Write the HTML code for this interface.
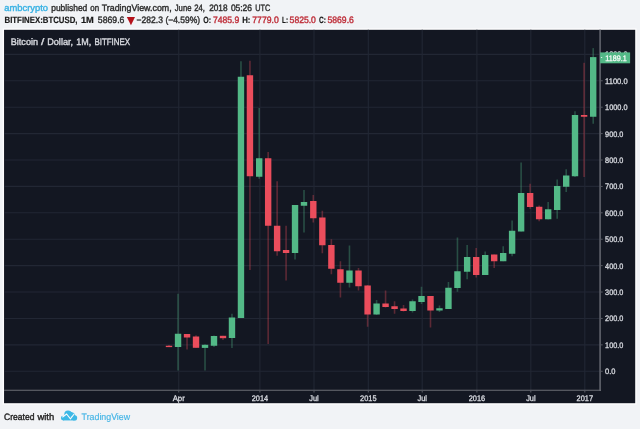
<!DOCTYPE html>
<html lang="en"><head><meta charset="utf-8"><title>BTCUSD chart</title>
<style>html,body{margin:0;padding:0;background:#f1f3f6;overflow:hidden}svg{display:block}text{font-family:'Liberation Sans', 'DejaVu Sans', sans-serif;text-rendering:geometricPrecision}</style>
</head><body>
<svg width="640" height="429" viewBox="0 0 640 429">
<rect x="0" y="0" width="640" height="429" fill="#f1f3f6"/>
<rect x="3.45" y="29.2" width="632.35" height="374.6" fill="none" stroke="#fdfdfe" stroke-width="1.6"/>
<rect x="4.05" y="29.8" width="631.15" height="373.4" fill="#131722"/>
<g stroke="#222734" stroke-width="1.1">
<line x1="4.05" y1="371.25" x2="600.1" y2="371.25"/>
<line x1="4.05" y1="344.85" x2="600.1" y2="344.85"/>
<line x1="4.05" y1="318.44" x2="600.1" y2="318.44"/>
<line x1="4.05" y1="292.03" x2="600.1" y2="292.03"/>
<line x1="4.05" y1="265.63" x2="600.1" y2="265.63"/>
<line x1="4.05" y1="239.22" x2="600.1" y2="239.22"/>
<line x1="4.05" y1="212.82" x2="600.1" y2="212.82"/>
<line x1="4.05" y1="186.41" x2="600.1" y2="186.41"/>
<line x1="4.05" y1="160.01" x2="600.1" y2="160.01"/>
<line x1="4.05" y1="133.60" x2="600.1" y2="133.60"/>
<line x1="4.05" y1="107.20" x2="600.1" y2="107.20"/>
<line x1="4.05" y1="80.79" x2="600.1" y2="80.79"/>
<line x1="4.05" y1="54.39" x2="600.1" y2="54.39"/>
<line x1="178.75" y1="29.8" x2="178.75" y2="390.3"/>
<line x1="259.90" y1="29.8" x2="259.90" y2="390.3"/>
<line x1="314.00" y1="29.8" x2="314.00" y2="390.3"/>
<line x1="368.30" y1="29.8" x2="368.30" y2="390.3"/>
<line x1="422.21" y1="29.8" x2="422.21" y2="390.3"/>
<line x1="476.90" y1="29.8" x2="476.90" y2="390.3"/>
<line x1="530.83" y1="29.8" x2="530.83" y2="390.3"/>
<line x1="584.80" y1="29.8" x2="584.80" y2="390.3"/>
</g>
<g>
<rect x="168.20" y="345.00" width="1.6" height="2.10" fill="#eb4d5c" opacity="0.34"/>
<rect x="165.80" y="345.75" width="6.4" height="1.35" fill="#eb4d5c"/>
<rect x="177.25" y="293.75" width="1.6" height="76.75" fill="#53b987" opacity="0.34"/>
<rect x="174.85" y="333.75" width="6.4" height="13.25" fill="#53b987"/>
<rect x="186.24" y="334.00" width="1.6" height="15.50" fill="#eb4d5c" opacity="0.34"/>
<rect x="183.84" y="334.00" width="6.4" height="3.50" fill="#eb4d5c"/>
<rect x="195.22" y="335.30" width="1.6" height="12.50" fill="#eb4d5c" opacity="0.34"/>
<rect x="192.82" y="336.50" width="6.4" height="11.30" fill="#eb4d5c"/>
<rect x="204.21" y="344.30" width="1.6" height="26.20" fill="#53b987" opacity="0.34"/>
<rect x="201.81" y="344.80" width="6.4" height="3.10" fill="#53b987"/>
<rect x="213.20" y="335.50" width="1.6" height="11.50" fill="#53b987" opacity="0.34"/>
<rect x="210.80" y="336.00" width="6.4" height="9.75" fill="#53b987"/>
<rect x="222.19" y="335.80" width="1.6" height="4.10" fill="#eb4d5c" opacity="0.34"/>
<rect x="219.79" y="335.80" width="6.4" height="2.40" fill="#eb4d5c"/>
<rect x="231.17" y="313.75" width="1.6" height="34.25" fill="#53b987" opacity="0.34"/>
<rect x="228.78" y="317.50" width="6.4" height="20.50" fill="#53b987"/>
<rect x="240.16" y="61.25" width="1.6" height="256.75" fill="#53b987" opacity="0.34"/>
<rect x="237.76" y="76.75" width="6.4" height="241.25" fill="#53b987"/>
<rect x="249.15" y="60.75" width="1.6" height="209.25" fill="#eb4d5c" opacity="0.34"/>
<rect x="246.75" y="75.25" width="6.4" height="101.00" fill="#eb4d5c"/>
<rect x="258.40" y="108.00" width="1.6" height="70.75" fill="#53b987" opacity="0.34"/>
<rect x="256.00" y="158.25" width="6.4" height="18.50" fill="#53b987"/>
<rect x="267.36" y="152.00" width="1.6" height="192.00" fill="#eb4d5c" opacity="0.34"/>
<rect x="264.96" y="158.25" width="6.4" height="67.50" fill="#eb4d5c"/>
<rect x="276.32" y="181.25" width="1.6" height="74.50" fill="#eb4d5c" opacity="0.34"/>
<rect x="273.92" y="225.75" width="6.4" height="25.50" fill="#eb4d5c"/>
<rect x="285.28" y="225.75" width="1.6" height="54.75" fill="#eb4d5c" opacity="0.34"/>
<rect x="282.88" y="250.00" width="6.4" height="3.00" fill="#eb4d5c"/>
<rect x="294.24" y="205.00" width="1.6" height="54.50" fill="#53b987" opacity="0.34"/>
<rect x="291.84" y="205.00" width="6.4" height="48.00" fill="#53b987"/>
<rect x="303.20" y="190.00" width="1.6" height="42.50" fill="#53b987" opacity="0.34"/>
<rect x="300.80" y="202.00" width="6.4" height="3.75" fill="#53b987"/>
<rect x="312.50" y="195.00" width="1.6" height="27.50" fill="#eb4d5c" opacity="0.34"/>
<rect x="310.10" y="201.00" width="6.4" height="17.25" fill="#eb4d5c"/>
<rect x="321.54" y="210.75" width="1.6" height="42.50" fill="#eb4d5c" opacity="0.34"/>
<rect x="319.14" y="217.50" width="6.4" height="27.75" fill="#eb4d5c"/>
<rect x="330.58" y="239.25" width="1.6" height="35.00" fill="#eb4d5c" opacity="0.34"/>
<rect x="328.18" y="245.00" width="6.4" height="23.75" fill="#eb4d5c"/>
<rect x="339.62" y="261.25" width="1.6" height="36.25" fill="#eb4d5c" opacity="0.34"/>
<rect x="337.22" y="269.25" width="6.4" height="13.50" fill="#eb4d5c"/>
<rect x="348.66" y="245.50" width="1.6" height="42.00" fill="#53b987" opacity="0.34"/>
<rect x="346.26" y="270.50" width="6.4" height="12.25" fill="#53b987"/>
<rect x="357.70" y="268.00" width="1.6" height="22.50" fill="#eb4d5c" opacity="0.34"/>
<rect x="355.30" y="270.50" width="6.4" height="15.75" fill="#eb4d5c"/>
<rect x="366.80" y="285.00" width="1.6" height="41.75" fill="#eb4d5c" opacity="0.34"/>
<rect x="364.40" y="285.50" width="6.4" height="29.00" fill="#eb4d5c"/>
<rect x="375.78" y="300.00" width="1.6" height="15.00" fill="#53b987" opacity="0.34"/>
<rect x="373.38" y="303.50" width="6.4" height="11.00" fill="#53b987"/>
<rect x="384.77" y="290.50" width="1.6" height="17.00" fill="#eb4d5c" opacity="0.34"/>
<rect x="382.37" y="303.50" width="6.4" height="3.50" fill="#eb4d5c"/>
<rect x="393.75" y="301.25" width="1.6" height="12.50" fill="#eb4d5c" opacity="0.34"/>
<rect x="391.35" y="306.25" width="6.4" height="2.75" fill="#eb4d5c"/>
<rect x="402.74" y="305.00" width="1.6" height="6.50" fill="#eb4d5c" opacity="0.34"/>
<rect x="400.34" y="308.50" width="6.4" height="2.50" fill="#eb4d5c"/>
<rect x="411.72" y="299.50" width="1.6" height="13.00" fill="#53b987" opacity="0.34"/>
<rect x="409.32" y="301.25" width="6.4" height="9.75" fill="#53b987"/>
<rect x="420.71" y="286.75" width="1.6" height="17.25" fill="#53b987" opacity="0.34"/>
<rect x="418.31" y="296.00" width="6.4" height="6.00" fill="#53b987"/>
<rect x="429.69" y="296.00" width="1.6" height="31.50" fill="#eb4d5c" opacity="0.34"/>
<rect x="427.30" y="296.00" width="6.4" height="14.50" fill="#eb4d5c"/>
<rect x="438.68" y="305.50" width="1.6" height="6.50" fill="#53b987" opacity="0.34"/>
<rect x="436.28" y="308.25" width="6.4" height="2.25" fill="#53b987"/>
<rect x="447.66" y="282.00" width="1.6" height="27.00" fill="#53b987" opacity="0.34"/>
<rect x="445.26" y="287.75" width="6.4" height="21.25" fill="#53b987"/>
<rect x="456.65" y="237.50" width="1.6" height="54.25" fill="#53b987" opacity="0.34"/>
<rect x="454.25" y="271.25" width="6.4" height="16.75" fill="#53b987"/>
<rect x="466.35" y="245.00" width="1.6" height="34.25" fill="#53b987" opacity="0.34"/>
<rect x="463.95" y="257.00" width="6.4" height="14.75" fill="#53b987"/>
<rect x="475.40" y="248.00" width="1.6" height="29.50" fill="#eb4d5c" opacity="0.34"/>
<rect x="473.00" y="257.00" width="6.4" height="18.00" fill="#eb4d5c"/>
<rect x="484.40" y="251.50" width="1.6" height="23.50" fill="#53b987" opacity="0.34"/>
<rect x="482.00" y="255.00" width="6.4" height="20.00" fill="#53b987"/>
<rect x="493.40" y="254.50" width="1.6" height="13.50" fill="#eb4d5c" opacity="0.34"/>
<rect x="491.00" y="254.50" width="6.4" height="6.75" fill="#eb4d5c"/>
<rect x="502.40" y="246.25" width="1.6" height="15.00" fill="#53b987" opacity="0.34"/>
<rect x="500.00" y="253.00" width="6.4" height="8.25" fill="#53b987"/>
<rect x="511.30" y="220.50" width="1.6" height="35.75" fill="#53b987" opacity="0.34"/>
<rect x="508.90" y="230.75" width="6.4" height="23.00" fill="#53b987"/>
<rect x="520.32" y="162.50" width="1.6" height="69.00" fill="#53b987" opacity="0.34"/>
<rect x="517.92" y="193.00" width="6.4" height="38.50" fill="#53b987"/>
<rect x="529.33" y="183.75" width="1.6" height="25.00" fill="#eb4d5c" opacity="0.34"/>
<rect x="526.93" y="193.00" width="6.4" height="14.00" fill="#eb4d5c"/>
<rect x="538.35" y="205.50" width="1.6" height="15.75" fill="#eb4d5c" opacity="0.34"/>
<rect x="535.95" y="206.75" width="6.4" height="12.50" fill="#eb4d5c"/>
<rect x="547.37" y="202.00" width="1.6" height="17.50" fill="#53b987" opacity="0.34"/>
<rect x="544.97" y="209.25" width="6.4" height="10.00" fill="#53b987"/>
<rect x="556.38" y="179.50" width="1.6" height="39.25" fill="#53b987" opacity="0.34"/>
<rect x="553.98" y="186.00" width="6.4" height="24.00" fill="#53b987"/>
<rect x="565.40" y="169.25" width="1.6" height="22.75" fill="#53b987" opacity="0.34"/>
<rect x="563.00" y="175.50" width="6.4" height="11.25" fill="#53b987"/>
<rect x="574.20" y="111.25" width="1.6" height="65.75" fill="#53b987" opacity="0.34"/>
<rect x="571.80" y="115.00" width="6.4" height="61.25" fill="#53b987"/>
<rect x="583.30" y="62.80" width="1.6" height="114.20" fill="#eb4d5c" opacity="0.34"/>
<rect x="580.90" y="115.00" width="6.4" height="1.75" fill="#eb4d5c"/>
<rect x="592.40" y="48.10" width="1.6" height="75.65" fill="#53b987" opacity="0.34"/>
<rect x="590.00" y="57.10" width="6.4" height="59.65" fill="#53b987"/>
</g>
<g stroke="#585b64">
<line x1="600.1" y1="29.8" x2="600.1" y2="390.9" stroke-width="1.8"/>
<line x1="4.05" y1="390.3" x2="601" y2="390.3" stroke-width="1.1" stroke="#6b6e75"/>
<line x1="600.1" y1="371.25" x2="602.7" y2="371.25" stroke-width="1"/>
<line x1="600.1" y1="344.85" x2="602.7" y2="344.85" stroke-width="1"/>
<line x1="600.1" y1="318.44" x2="602.7" y2="318.44" stroke-width="1"/>
<line x1="600.1" y1="292.03" x2="602.7" y2="292.03" stroke-width="1"/>
<line x1="600.1" y1="265.63" x2="602.7" y2="265.63" stroke-width="1"/>
<line x1="600.1" y1="239.22" x2="602.7" y2="239.22" stroke-width="1"/>
<line x1="600.1" y1="212.82" x2="602.7" y2="212.82" stroke-width="1"/>
<line x1="600.1" y1="186.41" x2="602.7" y2="186.41" stroke-width="1"/>
<line x1="600.1" y1="160.01" x2="602.7" y2="160.01" stroke-width="1"/>
<line x1="600.1" y1="133.60" x2="602.7" y2="133.60" stroke-width="1"/>
<line x1="600.1" y1="107.20" x2="602.7" y2="107.20" stroke-width="1"/>
<line x1="600.1" y1="80.79" x2="602.7" y2="80.79" stroke-width="1"/>
<line x1="600.1" y1="54.39" x2="602.7" y2="54.39" stroke-width="1"/>
<line x1="178.75" y1="390.3" x2="178.75" y2="392.5" stroke-width="1"/>
<line x1="259.90" y1="390.3" x2="259.90" y2="392.5" stroke-width="1"/>
<line x1="314.00" y1="390.3" x2="314.00" y2="392.5" stroke-width="1"/>
<line x1="368.30" y1="390.3" x2="368.30" y2="392.5" stroke-width="1"/>
<line x1="422.21" y1="390.3" x2="422.21" y2="392.5" stroke-width="1"/>
<line x1="476.90" y1="390.3" x2="476.90" y2="392.5" stroke-width="1"/>
<line x1="530.83" y1="390.3" x2="530.83" y2="392.5" stroke-width="1"/>
<line x1="584.80" y1="390.3" x2="584.80" y2="392.5" stroke-width="1"/>
</g>
<g font-size="8" fill="#dcdee4" stroke="#dcdee4" stroke-width="0.3">
<text x="605.1" y="374.15" textLength="10.4" lengthAdjust="spacingAndGlyphs">0.0</text>
<text x="605.1" y="347.75" textLength="18.2" lengthAdjust="spacingAndGlyphs">100.0</text>
<text x="605.1" y="321.34" textLength="18.2" lengthAdjust="spacingAndGlyphs">200.0</text>
<text x="605.1" y="294.93" textLength="18.2" lengthAdjust="spacingAndGlyphs">300.0</text>
<text x="605.1" y="268.53" textLength="18.2" lengthAdjust="spacingAndGlyphs">400.0</text>
<text x="605.1" y="242.12" textLength="18.2" lengthAdjust="spacingAndGlyphs">500.0</text>
<text x="605.1" y="215.72" textLength="18.2" lengthAdjust="spacingAndGlyphs">600.0</text>
<text x="605.1" y="189.31" textLength="18.2" lengthAdjust="spacingAndGlyphs">700.0</text>
<text x="605.1" y="162.91" textLength="18.2" lengthAdjust="spacingAndGlyphs">800.0</text>
<text x="605.1" y="136.50" textLength="18.2" lengthAdjust="spacingAndGlyphs">900.0</text>
<text x="605.1" y="110.10" textLength="22.5" lengthAdjust="spacingAndGlyphs">1000.0</text>
<text x="605.1" y="83.69" textLength="22.5" lengthAdjust="spacingAndGlyphs">1100.0</text>
<text x="605.1" y="57.39" textLength="22.5" lengthAdjust="spacingAndGlyphs">1200.0</text>
</g>
<rect x="600.1" y="52.4" width="30" height="10.9" fill="#53b987"/>
<text x="605.3" y="60.8" font-size="8" fill="#ffffff" stroke="#ffffff" stroke-width="0.25" textLength="21.4" lengthAdjust="spacingAndGlyphs">1189.1</text>
<rect x="600.9" y="57.1" width="1.3" height="0.9" fill="#ffffff" opacity="0.85"/>
<g font-size="8" fill="#dcdee4" stroke="#dcdee4" stroke-width="0.3" text-anchor="middle">
<text x="178.75" y="400.6" textLength="12.2" lengthAdjust="spacingAndGlyphs">Apr</text>
<text x="259.90" y="400.6" textLength="16.4" lengthAdjust="spacingAndGlyphs">2014</text>
<text x="314.00" y="400.6" textLength="9.4" lengthAdjust="spacingAndGlyphs">Jul</text>
<text x="368.30" y="400.6" textLength="16.4" lengthAdjust="spacingAndGlyphs">2015</text>
<text x="422.21" y="400.6" textLength="9.4" lengthAdjust="spacingAndGlyphs">Jul</text>
<text x="476.90" y="400.6" textLength="16.4" lengthAdjust="spacingAndGlyphs">2016</text>
<text x="530.83" y="400.6" textLength="9.4" lengthAdjust="spacingAndGlyphs">Jul</text>
<text x="584.80" y="400.6" textLength="16.4" lengthAdjust="spacingAndGlyphs">2017</text>
</g>
<text x="10.8" y="44.8" font-size="9.5" fill="#d6d8de" stroke="#d6d8de" stroke-width="0.4" textLength="27.2" lengthAdjust="spacingAndGlyphs">Bitcoin</text>
<text x="41" y="44.8" font-size="9.5" fill="#d6d8de" stroke="#d6d8de" stroke-width="0.4" textLength="3.3" lengthAdjust="spacingAndGlyphs">/</text>
<text x="47.2" y="44.8" font-size="9.5" fill="#d6d8de" stroke="#d6d8de" stroke-width="0.4" textLength="25.9" lengthAdjust="spacingAndGlyphs">Dollar,</text>
<text x="76.25" y="44.8" font-size="9.5" fill="#d6d8de" stroke="#d6d8de" stroke-width="0.4" textLength="15.0" lengthAdjust="spacingAndGlyphs">1M,</text>
<text x="94.4" y="44.8" font-size="9.5" fill="#d6d8de" stroke="#d6d8de" stroke-width="0.4" textLength="35.7" lengthAdjust="spacingAndGlyphs">BITFINEX</text>
<text x="4.2" y="10.75" font-size="9.3" fill="#3bb3e4" stroke="#3bb3e4" stroke-width="0.4" textLength="43.8" lengthAdjust="spacingAndGlyphs">ambcrypto</text>
<text x="51.25" y="10.75" font-size="9.3" fill="#2e2e2e" stroke="#2e2e2e" stroke-width="0.4" textLength="36.0" lengthAdjust="spacingAndGlyphs">published</text>
<text x="90.25" y="10.75" font-size="9.3" fill="#2e2e2e" stroke="#2e2e2e" stroke-width="0.4" textLength="8.8" lengthAdjust="spacingAndGlyphs">on</text>
<text x="101.7" y="10.75" font-size="9.3" fill="#2e2e2e" stroke="#2e2e2e" stroke-width="0.4" textLength="70.0" lengthAdjust="spacingAndGlyphs">TradingView.com,</text>
<text x="174.8" y="10.75" font-size="9.3" fill="#2e2e2e" stroke="#2e2e2e" stroke-width="0.4" textLength="16.6" lengthAdjust="spacingAndGlyphs">June</text>
<text x="194.3" y="10.75" font-size="9.3" fill="#2e2e2e" stroke="#2e2e2e" stroke-width="0.4" textLength="10.7" lengthAdjust="spacingAndGlyphs">24,</text>
<text x="209.2" y="10.75" font-size="9.3" fill="#2e2e2e" stroke="#2e2e2e" stroke-width="0.4" textLength="18.3" lengthAdjust="spacingAndGlyphs">2018</text>
<text x="230.9" y="10.75" font-size="9.3" fill="#2e2e2e" stroke="#2e2e2e" stroke-width="0.4" textLength="21.1" lengthAdjust="spacingAndGlyphs">05:26</text>
<text x="255.3" y="10.75" font-size="9.3" fill="#2e2e2e" stroke="#2e2e2e" stroke-width="0.4" textLength="15.0" lengthAdjust="spacingAndGlyphs">UTC</text>
<text x="4.5" y="22.9" font-size="9.1" fill="#1a1a1a" stroke="#1a1a1a" stroke-width="0.2" font-weight="bold" textLength="73.0" lengthAdjust="spacingAndGlyphs">BITFINEX:BTCUSD,</text>
<text x="80.9" y="22.9" font-size="9.1" fill="#1a1a1a" stroke="#1a1a1a" stroke-width="0.2" font-weight="bold" textLength="12.9" lengthAdjust="spacingAndGlyphs">1M</text>
<text x="97.8" y="22.9" font-size="9.3" fill="#2e2e2e" stroke="#2e2e2e" stroke-width="0.4" textLength="26.6" lengthAdjust="spacingAndGlyphs">5869.6</text>
<text x="124.1" y="24.9" font-size="14" fill="#b5121b" font-family="DejaVu Sans, sans-serif">▼</text>
<text x="136.6" y="22.9" font-size="9.3" fill="#2e2e2e" stroke="#2e2e2e" stroke-width="0.4" textLength="26.3" lengthAdjust="spacingAndGlyphs">−282.3</text>
<text x="165.4" y="22.9" font-size="9.3" fill="#2e2e2e" stroke="#2e2e2e" stroke-width="0.4" textLength="34.6" lengthAdjust="spacingAndGlyphs">(−4.59%)</text>
<text x="203.2" y="22.9" font-size="9.1" fill="#1a1a1a" stroke="#1a1a1a" stroke-width="0.2" font-weight="bold" textLength="7.8" lengthAdjust="spacingAndGlyphs">O:</text>
<text x="212.9" y="22.9" font-size="9.3" fill="#bf2f3a" stroke="#bf2f3a" stroke-width="0.4" textLength="26.3" lengthAdjust="spacingAndGlyphs">7485.9</text>
<text x="242.2" y="22.9" font-size="9.1" fill="#1a1a1a" stroke="#1a1a1a" stroke-width="0.2" font-weight="bold" textLength="8.2" lengthAdjust="spacingAndGlyphs">H:</text>
<text x="252.3" y="22.9" font-size="9.3" fill="#bf2f3a" stroke="#bf2f3a" stroke-width="0.4" textLength="26.4" lengthAdjust="spacingAndGlyphs">7779.0</text>
<text x="282.1" y="22.9" font-size="9.1" fill="#1a1a1a" stroke="#1a1a1a" stroke-width="0.2" font-weight="bold" textLength="6.0" lengthAdjust="spacingAndGlyphs">L:</text>
<text x="289.6" y="22.9" font-size="9.3" fill="#bf2f3a" stroke="#bf2f3a" stroke-width="0.4" textLength="26.3" lengthAdjust="spacingAndGlyphs">5825.0</text>
<text x="319.1" y="22.9" font-size="9.1" fill="#1a1a1a" stroke="#1a1a1a" stroke-width="0.2" font-weight="bold" textLength="6.9" lengthAdjust="spacingAndGlyphs">C:</text>
<text x="327.5" y="22.9" font-size="9.3" fill="#bf2f3a" stroke="#bf2f3a" stroke-width="0.4" textLength="26.3" lengthAdjust="spacingAndGlyphs">5869.6</text>
<g transform="translate(50,404) scale(0.0625)" fill="#3db8e6">
<circle cx="212" cy="224" r="38"/><circle cx="287" cy="163" r="58"/><circle cx="394" cy="222" r="41"/>
<rect x="209" y="200" width="185" height="63"/><polygon points="300,106 392,146 404,190 300,200"/>
<polyline points="198,212 265,160 327,237 392,152" fill="none" stroke="#f8fafc" stroke-width="17" stroke-linejoin="miter"/>
</g>
<text x="4.1" y="419.6" font-size="9.3" fill="#262626" stroke="#262626" stroke-width="0.4" textLength="30.3" lengthAdjust="spacingAndGlyphs">Created</text>
<text x="37.4" y="419.6" font-size="9.3" fill="#262626" stroke="#262626" stroke-width="0.4" textLength="16.8" lengthAdjust="spacingAndGlyphs">with</text>
<text x="81.6" y="419.6" font-size="9.3" fill="#44b5e6" stroke="#44b5e6" stroke-width="0.15" textLength="48.5" lengthAdjust="spacingAndGlyphs">TradingView</text>
</svg>
</body></html>
